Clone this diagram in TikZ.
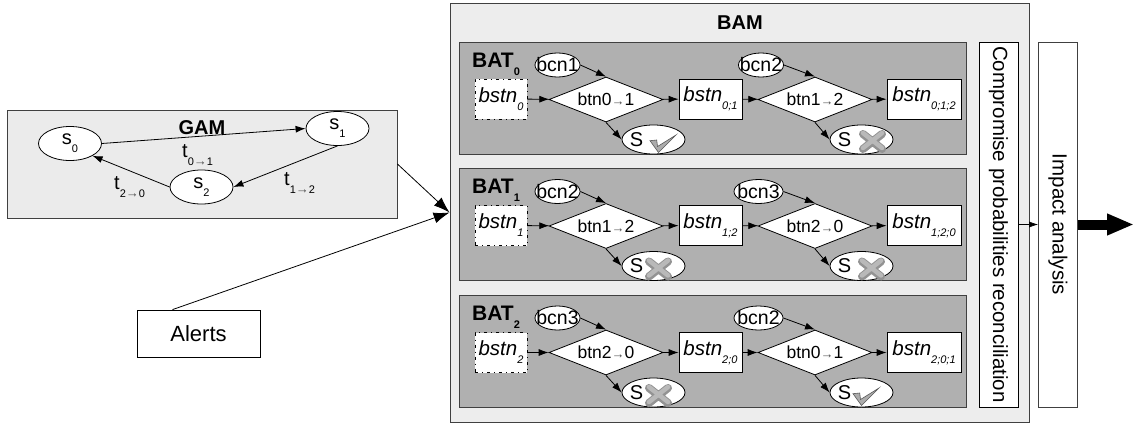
\documentclass[tikz,border=0pt]{standalone}
\usepackage{fontspec}
\setmainfont{Liberation Sans}
\usetikzlibrary{arrows.meta, shapes.geometric}

\newcommand{\lowsub}[1]{\raisebox{-8pt}{\fontsize{11}{11}\selectfont #1}}
\newcommand{\minitip}{{\fontsize{13}{13}\selectfont\textcolor{black!70}{→}}}
\newcommand{\noextent}[1]{\makebox[0pt]{#1}}
\newcommand{\resulttext}{\noextent{S\kern34pt}}

\tikzset{
    pass mark/.pic={
        \draw[gray!70!black, fill=gray!65, line width=.6pt] (-3.5,1.2) -- (3.2,.5) -- (4,7) -- (22.5,-4.5) -- (5,13) -- cycle;
    },
    fail mark/.pic={
        \draw[gray!85, line width=8pt, line cap=round] (-9.5,-7.5) -- (9.5,7.5) (-9.5,7.5) -- (9.5,-7.5);
        \draw[gray!55, line width=4.5pt, line cap=round] (-9.5,-8.5) -- (9.5,6.5) (-9.5,6.5) -- (9.5,-8.5);
    }
}

\begin{document}
\begin{tikzpicture}[x=1pt, y=-1pt,
    panel/.style={draw=black!75,line width=.9pt,inner sep=0},
    state/.style={ellipse,draw,fill=white,line width=.8pt,minimum width=63pt,minimum height=34pt,inner sep=0,font=\fontsize{20}{20}\selectfont},
    translabel/.style={anchor=base west,inner sep=0,font=\fontsize{20}{20}\selectfont},
    condition/.style={ellipse,draw,fill=white,line width=.8pt,minimum width=45pt,minimum height=24pt,inner sep=0,font=\fontsize{19.5}{19.5}\selectfont},
    bstnbox/.style={rectangle,draw,fill=white,line width=.8pt,minimum height=40pt,inner sep=0,font=\fontsize{20.5}{20.5}\selectfont\itshape},
    start/.style={bstnbox,minimum width=52pt,dash pattern=on 3pt off 4pt on 1pt off 4pt},
    stepchoice/.style={diamond,draw,fill=white,line width=.8pt,shape aspect=2.53,minimum width=114pt,minimum height=45pt,inner sep=0,font=\fontsize{17.5}{17.5}\selectfont},
    result/.style={ellipse,draw,fill=white,line width=.8pt,minimum width=63pt,minimum height=29pt,inner sep=0,font=\fontsize{20}{20}\selectfont},
    batlabel/.style={anchor=base west,inner sep=0,font=\fontsize{21}{21}\selectfont\bfseries},
    title/.style={inner sep=0,font=\fontsize{20}{20}\selectfont\bfseries},
    flow/.style={line width=.8pt,-{Latex[length=10pt,width=7pt]}},
    bigflow/.style={line width=.8pt,-{Latex[length=16pt,width=11pt]}}]

    \useasboundingbox (0,0) rectangle (1134,423);

    % left side
    \node[panel,fill=black!8,minimum width=390pt,minimum height=108pt] (gam) at (202,164) {};
    \node[title] (gamtitle) at (202,128) {GAM};
    \node[state] (s0) at (70,143.5) {s\lowsub{0}};
    \node[state] (s1) at (337.5,128.5) {s\lowsub{1}};
    \node[state] (s2) at (201.5,187) {s\lowsub{2}};
    \node[translabel] (t01) at (182,157) {t\lowsub{0\minitip 1}};
    \node[translabel] (t12) at (284,185) {t\lowsub{1\minitip 2}};
    \node[translabel] (t20) at (114,189) {t\lowsub{2\minitip 0}};
    \draw[flow] (s0.east) -- (s1.west);
    \draw[flow] (s1.south) -- (s2.east);
    \draw[flow] (s2.west) -- (s0.south east);
    \node[rectangle,draw,line width=.8pt,minimum width=123pt,minimum height=47pt,inner sep=0,font=\fontsize{22}{22}\selectfont] (alerts) at (198.5,333.5) {Alerts};

    % main box
    \node[panel,fill=black!7,minimum width=579pt,minimum height=419pt] (bam) at (739.5,212.5) {};
    \node[title] (bamtitle) at (740,23) {BAM};
    \draw[bigflow] (gam.east) -- (bam.west);
    \draw[bigflow] ([xshift=-26pt]alerts.north) -- (bam.west);

    % first row
    \node[panel,fill=black!31,minimum width=507pt,minimum height=112pt] (bat0) at (713,98) {};
    \node[batlabel] (bat0title) at (472,67) {BAT\lowsub{0}};
    \node[condition] (bcn01) at (557.5,65) {\noextent{bcn1}};
    \node[condition] (bcn02) at (761,65) {\noextent{bcn2}};
    \node[start] (bstn00) at (501,99) {bstn\lowsub{0}};
    \node[stepchoice] (btn00) at (606,99.5) {btn0\minitip 1};
    \node[bstnbox,minimum width=63pt] (bstn01) at (710.5,99) {bstn\lowsub{0;1}};
    \node[stepchoice] (btn01) at (815,99.5) {btn1\minitip 2};
    \node[bstnbox,minimum width=74pt] (bstn02) at (924,99) {bstn\lowsub{0;1;2}};
    \node[result] (res00) at (653.5,139.5) {\resulttext};
    \node[result] (res01) at (861.5,139.5) {\resulttext};
    \pic at (res00.center) {pass mark};
    \pic at ([xshift=11pt,yshift=-2pt]res01.center) {fail mark};
    \draw[flow] (bstn00) -- (btn00);
    \draw[flow] (btn00) -- (bstn01);
    \draw[flow] (bstn01) -- (btn01);
    \draw[flow] (btn01) -- (bstn02);
    \draw[flow] (bcn01.east) -- (btn00.north);
    \draw[flow] (bcn02.east) -- (btn01.north);
    \draw[flow] (btn00.south) -- (res00.west);
    \draw[flow] (btn01.south) -- (res01.west);

    % second row
    \node[panel,fill=black!31,minimum width=507pt,minimum height=112pt] (bat1) at (713,224.5) {};
    \node[batlabel] (bat1title) at (472,193.5) {BAT\lowsub{1}};
    \node[condition] (bcn11) at (557.5,191.5) {\noextent{bcn2}};
    \node[condition,minimum width=49pt] (bcn12) at (758.5,191.5) {\noextent{bcn3}};
    \node[start] (bstn10) at (501,225.5) {bstn\lowsub{1}};
    \node[stepchoice] (btn10) at (606,226) {btn1\minitip 2};
    \node[bstnbox,minimum width=63pt] (bstn11) at (710.5,225.5) {bstn\lowsub{1;2}};
    \node[stepchoice] (btn11) at (815,226) {btn2\minitip 0};
    \node[bstnbox,minimum width=74pt] (bstn12) at (924,225.5) {bstn\lowsub{1;2;0}};
    \node[result] (res10) at (653.5,266) {\resulttext};
    \node[result] (res11) at (861.5,266) {\resulttext};
    \pic at ([xshift=5pt,yshift=-3pt]res10.center) {fail mark};
    \pic at ([xshift=10pt,yshift=-3pt]res11.center) {fail mark};
    \draw[flow] (bstn10) -- (btn10);
    \draw[flow] (btn10) -- (bstn11);
    \draw[flow] (bstn11) -- (btn11);
    \draw[flow] (btn11) -- (bstn12);
    \draw[flow] (bcn11.east) -- (btn10.north);
    \draw[flow] (bcn12.east) -- (btn11.north);
    \draw[flow] (btn10.south) -- (res10.west);
    \draw[flow] (btn11.south) -- (res11.west);

    % third row
    \node[panel,fill=black!31,minimum width=507pt,minimum height=112pt] (bat2) at (713,351) {};
    \node[batlabel] (bat2title) at (472,320) {BAT\lowsub{2}};
    \node[condition] (bcn21) at (557.5,318) {\noextent{bcn3}};
    \node[condition,minimum width=49pt] (bcn22) at (758.5,318) {\noextent{bcn2}};
    \node[start] (bstn20) at (501,352.5) {bstn\lowsub{2}};
    \node[stepchoice] (btn20) at (606,352.5) {btn2\minitip 0};
    \node[bstnbox,minimum width=63pt] (bstn21) at (710.5,352.5) {bstn\lowsub{2;0}};
    \node[stepchoice] (btn21) at (815,352.5) {btn0\minitip 1};
    \node[bstnbox,minimum width=74pt] (bstn22) at (924,352.5) {bstn\lowsub{2;0;1}};
    \node[result] (res20) at (653.5,392.5) {\resulttext};
    \node[result] (res21) at (861.5,392.5) {\resulttext};
    \pic at ([xshift=5pt,yshift=-3pt]res20.center) {fail mark};
    \pic at ([xshift=-5pt]res21.center) {pass mark};
    \draw[flow] (bstn20) -- (btn20);
    \draw[flow] (btn20) -- (bstn21);
    \draw[flow] (bstn21) -- (btn21);
    \draw[flow] (btn21) -- (bstn22);
    \draw[flow] (bcn21.east) -- (btn20.north);
    \draw[flow] (bcn22.east) -- (btn21.north);
    \draw[flow] (btn20.south) -- (res20.west);
    \draw[flow] (btn21.south) -- (res21.west);

    % right side
    \node[rectangle,draw,fill=white,line width=.8pt,minimum width=39pt,minimum height=365pt,inner sep=0] (recon) at (998.5,224.5) {};
    \node[rotate=-90,inner sep=0,font=\fontsize{20.5}{20.5}\selectfont] (recontext) at (recon.center) {Compromise probabilities reconciliation};
    \node[rectangle,draw=black!75,fill=white,line width=.8pt,minimum width=39pt,minimum height=365pt,inner sep=0] (impact) at (1058,224.5) {};
    \node[rotate=-90,inner sep=0,font=\fontsize{20.5}{20.5}\selectfont] (impacttext) at (impact.center) {Impact analysis};
    \coordinate (out) at (1134,224.5);
    \draw[line width=.6pt,-{Latex[length=9pt,width=6pt]}] (recon) -- (impact);
    \draw[line width=10pt,-{Triangle[length=27pt,width=20pt]}] (impact) -- (out);
\end{tikzpicture}
\end{document}
